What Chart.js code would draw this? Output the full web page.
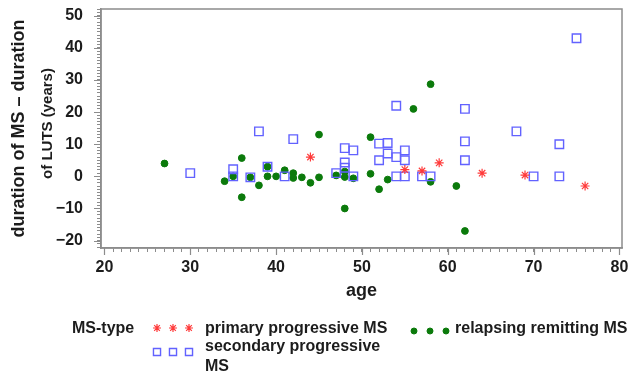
<!DOCTYPE html>
<html>
<head>
<meta charset="utf-8">
<script src="https://cdn.jsdelivr.net/npm/chart.js@4"></script>
<style>
html, body { margin: 0; padding: 0; background: #fff; }
</style>
</head>
<body>
<canvas id="chart-1" width="630" height="376"></canvas>
<script>
// MS types, same order as the datasets below
const msTypes = ['primary progressive MS', 'secondary progressive MS', 'relapsing remitting MS'];
const legendTitle = 'MS-type';
const yTitleLines = ['duration of MS \u2013 duration', 'of LUTS (years)'];

// primary progressive MS (red stars)
const ppAge  = [44, 55, 57, 59, 64, 69, 76];
const ppDiff = [6, 2.1, 1.7, 4.2, 1, 0.4, -3];

// secondary progressive MS (blue squares)
const spAge  = [30, 35, 35, 37, 38, 39, 41, 42, 47, 48, 48, 48, 49, 49, 52, 52, 53, 53, 54, 54, 54, 55, 55, 55, 57, 58, 62, 62, 62, 68, 70, 73, 73, 75];
const spDiff = [1, 2.2, 0, -0.3, 14, 3, 0, 11.6, 1, 8.8, 4.3, 2.7, 8.1, 0, 10.2, 5, 10.4, 7.1, 22, 6, 0, 8.1, 5, 0, 0, 0, 21, 10.9, 5, 14, 0, 10, 0, 43];

// relapsing remitting MS (green dots)
const rrAge  = [27, 34, 35, 36, 36, 37, 38, 39, 39, 40, 41, 42, 42, 43, 44, 45, 45, 47, 48, 48, 48, 49, 51, 51, 52, 53, 56, 58, 58, 61, 62];
const rrDiff = [4, -1.5, 0, 5.7, -6.5, -0.3, -2.8, 3, 0, 0, 1.9, 1, -0.5, -0.3, -2, 13, -0.3, 0.3, 1.5, -0.2, -10, -0.6, 12.2, 0.8, -4, -1, 21, 28.7, -1.7, -3, -17];

// labelled ticks
const xMajor = [20, 30, 40, 50, 60, 70, 80];
const yMajor = [-20, -10, 0, 10, 20, 30, 40, 50];

const textColor = '#1c1c1c';
const frameColor = '#8c8c8c';
const fontFamily = '"Liberation Sans", Arial, sans-serif';

const toPoints = (xs, ys) => xs.map((x, i) => ({ x: x, y: ys[i] }));

// keep only the whole-number ticks (the minor tick marks)
const onlyWhole = scale => {
    scale.ticks = scale.ticks.filter(t => Math.abs(t.value - Math.round(t.value)) < 1e-6);
};

const isMajor = (list, v) => list.some(m => Math.abs(m - v) < 1e-6);

const framePlugin = {
    id: 'frame',
    afterDraw(chart) {
        const { ctx, chartArea: a, scales } = chart;
        ctx.save();
        ctx.strokeStyle = frameColor;
        ctx.lineWidth = 1.5;
        ctx.strokeRect(a.left, a.top, a.right - a.left, a.bottom - a.top);
        // major ticks are a bit longer than the minor ones
        ctx.lineWidth = 1.2;
        ctx.beginPath();
        xMajor.forEach(v => {
            const px = Math.round(scales.x.getPixelForValue(v)) + 0.5;
            ctx.moveTo(px, a.bottom);
            ctx.lineTo(px, a.bottom + 7);
        });
        yMajor.forEach(v => {
            const py = Math.round(scales.y.getPixelForValue(v)) + 0.5;
            ctx.moveTo(a.left, py);
            ctx.lineTo(a.left - 7, py);
        });
        ctx.stroke();

        // y title: two rotated lines, the second one a little smaller
        ctx.fillStyle = textColor;
        ctx.textAlign = 'center';
        ctx.textBaseline = 'middle';
        const mid = (a.top + a.bottom) / 2;
        [[19, mid, 18], [48, mid - 5, 15]].forEach((p, i) => {
            ctx.save();
            ctx.font = 'bold ' + p[2] + 'px ' + fontFamily;
            ctx.translate(p[0], p[1]);
            ctx.rotate(-Math.PI / 2);
            ctx.fillText(yTitleLines[i], 0, 0);
            ctx.restore();
        });
        ctx.restore();
    }
};

const legendPlugin = {
    id: 'msLegend',
    afterDraw(chart) {
        const ctx = chart.ctx;
        const sets = chart.data.datasets;
        ctx.save();
        ctx.font = 'bold 16px ' + fontFamily;
        ctx.textBaseline = 'middle';
        ctx.textAlign = 'left';
        ctx.fillStyle = textColor;
        ctx.fillText(legendTitle, 72, 329);

        const rows = [
            { ds: 0, mx: 157, my: 328, tx: 205, ty: 329, lines: ['primary progressive MS'] },
            { ds: 2, mx: 414, my: 331, tx: 455, ty: 329, lines: ['relapsing remitting MS'] },
            { ds: 1, mx: 157, my: 352, tx: 205, ty: 347, lines: ['secondary progressive', 'MS'] }
        ];
        rows.forEach(r => {
            const d = sets[r.ds];
            for (let k = 0; k < 3; k++) {
                ctx.strokeStyle = d.borderColor;
                ctx.fillStyle = d.backgroundColor;
                ctx.lineWidth = d.borderWidth;
                Chart.helpers.drawPoint(ctx, {
                    pointStyle: d.pointStyle,
                    radius: d.legendRadius,
                    borderWidth: d.borderWidth,
                    rotation: 0
                }, r.mx + k * 16, r.my);
            }
            ctx.fillStyle = textColor;
            r.lines.forEach((t, i) => ctx.fillText(t, r.tx, r.ty + i * 20));
        });
        ctx.restore();
    }
};

const ctx = document.getElementById('chart-1').getContext('2d');

const chart_1 = new Chart(ctx, {
    type: 'scatter',
    data: {
        datasets: [
            {
                label: msTypes[0],
                data: toPoints(ppAge, ppDiff),
                pointStyle: 'star',
                radius: 4.5,
                legendRadius: 4,
                borderColor: '#ff3a3a',
                backgroundColor: '#ff3a3a',
                borderWidth: 1.2
            },
            {
                label: msTypes[1],
                data: toPoints(spAge, spDiff),
                pointStyle: 'rect',
                radius: 6,
                legendRadius: 5,
                borderColor: '#6262ff',
                backgroundColor: 'rgba(0,0,0,0)',
                borderWidth: 1.4
            },
            {
                label: msTypes[2],
                data: toPoints(rrAge, rrDiff),
                pointStyle: 'circle',
                radius: 3.4,
                legendRadius: 3,
                borderColor: '#0b7a0b',
                backgroundColor: '#0b7a0b',
                borderWidth: 1
            }
        ]
    },
    options: {
        responsive: false,
        animation: false,
        events: [],
        layout: {
            padding: { left: 0, top: 9, right: 8, bottom: 74 }
        },
        plugins: {
            legend: { display: false },
            tooltip: { enabled: false }
        },
        scales: {
            x: {
                type: 'linear',
                min: 19.6,
                max: 80.3,
                afterBuildTicks: onlyWhole,
                afterFit: s => { s.height = 54; s.paddingLeft = 0; s.paddingRight = 0; },
                border: { display: true, color: frameColor, width: 1.5 },
                grid: {
                    drawOnChartArea: false,
                    drawTicks: true,
                    tickLength: 4,
                    tickColor: frameColor,
                    tickWidth: 1
                },
                ticks: {
                    stepSize: 1,
                    includeBounds: false,
                    autoSkip: false,
                    maxRotation: 0,
                    padding: 6,
                    color: textColor,
                    font: { family: fontFamily, size: 16, weight: 'bold' },
                    callback: v => isMajor(xMajor, v) ? String(Math.round(v)) : ''
                },
                title: {
                    display: true,
                    text: 'age',
                    color: textColor,
                    padding: 0,
                    font: { family: fontFamily, size: 18, weight: 'bold', lineHeight: 1.2 }
                }
            },
            y: {
                type: 'linear',
                min: -22.3,
                max: 52.1,
                afterBuildTicks: onlyWhole,
                afterFit: s => { s.width = 101; s.paddingTop = 0; s.paddingBottom = 0; },
                border: { display: true, color: frameColor, width: 1.5 },
                grid: {
                    drawOnChartArea: false,
                    drawTicks: true,
                    tickLength: 4,
                    tickColor: frameColor,
                    tickWidth: 1
                },
                ticks: {
                    stepSize: 1,
                    includeBounds: false,
                    autoSkip: false,
                    padding: 14,
                    color: textColor,
                    font: { family: fontFamily, size: 16, weight: 'bold' },
                    callback: v => {
                        if (!isMajor(yMajor, v)) return '';
                        const n = Math.round(v);
                        return n < 0 ? '\u2212' + Math.abs(n) : String(n);
                    }
                },
                title: { display: false }
            }
        }
    },
    plugins: [framePlugin, legendPlugin]
});
</script>
</body>
</html>
